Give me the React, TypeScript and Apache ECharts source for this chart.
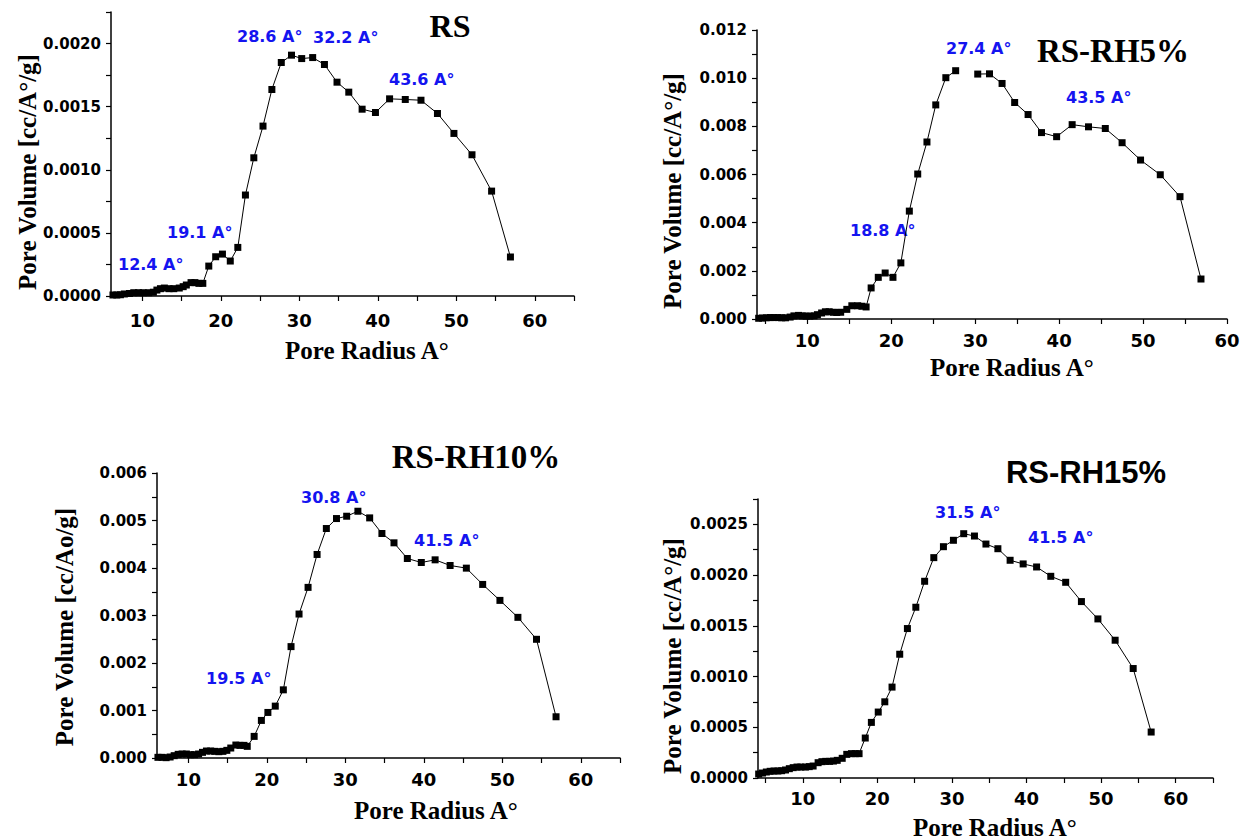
import React, { useEffect, useRef } from "react";
import * as echarts from "echarts";

// ---------- DATA ----------
const RS_RADIUS = [6.25, 6.74, 7.2, 7.7, 8.35, 8.9, 9.5, 10.1, 10.8, 11.4, 11.85, 12.3, 12.8, 13.4, 14.0, 14.7, 15.2, 15.6, 16.2, 16.7, 17.2, 17.7,
  18.46, 19.34, 20.2, 21.2, 22.16, 23.13, 24.2, 25.37, 26.5, 27.7, 29.0, 30.3, 31.7, 33.2, 34.8, 36.3, 38.0, 39.7, 41.5, 43.5, 45.5, 47.6, 49.7, 52.0, 54.5, 56.9];
const RS_VOLUME = [0.000008, 0.000008, 0.00001, 0.000016, 0.00002, 0.000026, 0.000026, 0.000026, 0.000026, 0.00003, 0.000047, 0.000058, 0.000063, 0.000058, 0.000058, 0.000063, 0.000074, 0.000087, 0.000106, 0.000106, 0.0001, 0.0001,
  0.000237, 0.000311, 0.000332, 0.000277, 0.000385, 0.0008, 0.001095, 0.001346, 0.001636, 0.00185, 0.001908, 0.001881, 0.001889, 0.001834, 0.001694, 0.001615, 0.00148, 0.001454, 0.001562, 0.001557, 0.001551, 0.001446, 0.001288, 0.001119, 0.000831, 0.000309];

const RH5_RADIUS = [4.2, 4.66, 5.1, 5.57, 6.0, 6.5, 6.94, 7.4, 7.95, 8.4, 8.95, 9.4, 9.86, 10.3, 10.8, 11.2, 11.7, 12.15, 12.6, 13.1, 13.5, 13.97, 14.7, 15.3, 16.0, 16.5, 17.0,
  17.6, 18.45, 19.27, 20.2, 21.14, 22.15, 23.15, 24.25, 25.3, 26.5, 27.67, 28.9, 30.3, 31.7, 33.2, 34.7, 36.3, 37.9, 39.7, 41.55, 43.5, 45.5, 47.5, 49.7, 52.05, 54.4, 56.9];
const RH5_VOLUME = [0.00003, 0.00004, 0.00005, 0.00006, 0.00006, 0.00006, 0.00005, 0.00005, 0.00008, 0.00013, 0.00015, 0.00013, 0.00012, 0.00012, 0.00013, 0.00018, 0.00025, 0.0003, 0.0003, 0.00028, 0.00027, 0.00028, 0.0004, 0.00055, 0.00055, 0.00053, 0.0005,
  0.00129, 0.00173, 0.00191, 0.00173, 0.00233, 0.00448, 0.00602, 0.00735, 0.00889, 0.01002, 0.01031, null, 0.01017, 0.01018, 0.00978, 0.00899, 0.00849, 0.00774, 0.00757, 0.00807, 0.00798, 0.00791, 0.00732, 0.0066, 0.00599, 0.00508, 0.00166];

const RH10_RADIUS = [6.12, 6.64, 7.16, 7.67, 8.19, 8.7, 9.2, 9.74, 10.26, 10.78, 11.3, 11.8, 12.3, 12.84, 13.36, 13.88, 14.4, 14.9, 15.4, 16.05, 16.57, 17.08, 17.5,
  18.38, 19.3, 20.13, 21.07, 22.1, 23.08, 24.1, 25.25, 26.4, 27.58, 28.87, 30.17, 31.6, 33.1, 34.66, 36.2, 37.9, 39.68, 41.44, 43.35, 45.42, 47.5, 49.7, 51.99, 54.36, 56.85];
const RH10_VOLUME = [0.000014, 0.000014, 0.000007, 0.000021, 0.000049, 0.000077, 0.000084, 0.000084, 0.00007, 0.00007, 0.000084, 0.000119, 0.000147, 0.000147, 0.00014, 0.000133, 0.00014, 0.000161, 0.00021, 0.000273, 0.000266, 0.000266, 0.000245,
  0.000455, 0.000791, 0.000959, 0.001092, 0.001435, 0.002345, 0.003031, 0.003592, 0.004285, 0.004831, 0.005041, 0.00509, 0.005195, 0.005055, 0.004726, 0.00453, 0.0042, 0.004116, 0.004172, 0.004053, 0.003997, 0.003654, 0.003318, 0.002961, 0.002499, 0.000868];

const RH15_RADIUS = [4.09, 4.6, 5.12, 5.63, 6.15, 6.66, 7.17, 7.69, 8.2, 8.72, 9.23, 9.74, 10.36, 10.87, 11.39, 12.06, 12.57, 13.08, 13.6, 14.11, 14.62, 15.29, 15.9, 16.53, 17.04, 17.55,
  18.38, 19.2, 20.12, 21.0, 21.97, 23.0, 24.03, 25.16, 26.34, 27.57, 28.86, 30.2, 31.58, 33.02, 34.56, 36.16, 37.8, 39.55, 41.35, 43.25, 45.25, 47.36, 49.57, 51.88, 54.3, 56.71];
const RH15_VOLUME = [0.000039, 0.000049, 0.000059, 0.000066, 0.000069, 0.000069, 0.000072, 0.000079, 0.000092, 0.000102, 0.000108, 0.000108, 0.000108, 0.000112, 0.000118, 0.000151, 0.000161, 0.000164, 0.000164, 0.000167, 0.000174, 0.000194, 0.000233, 0.00024, 0.00024, 0.00024,
  0.000394, 0.000548, 0.00065, 0.000751, 0.000896, 0.00122, 0.001473, 0.001683, 0.001939, 0.002172, 0.00228, 0.002343, 0.002408, 0.002385, 0.002306, 0.00226, 0.002146, 0.00211, 0.00208, 0.001988, 0.001929, 0.001739, 0.001568, 0.001358, 0.001079, 0.000453];

// tick labels
const X_LABELS = [10, 20, 30, 40, 50, 60];
const X_TICKS_FROM10 = [10, 15, 20, 25, 30, 35, 40, 45, 50, 55, 60, 65];
const X_TICKS_FROM5 = [5, 10, 15, 20, 25, 30, 35, 40, 45, 50, 55, 60];
const X_TICKS_FROM5_TO65 = [5, 10, 15, 20, 25, 30, 35, 40, 45, 50, 55, 60, 65];

const RS_Y_LABELS = [0, 0.0005, 0.001, 0.0015, 0.002];
const RS_Y_TICKS = [0, 0.00025, 0.0005, 0.00075, 0.001, 0.00125, 0.0015, 0.00175, 0.002, 0.00225];
const RH5_Y_LABELS = [0, 0.002, 0.004, 0.006, 0.008, 0.01, 0.012];
const RH5_Y_TICKS = [0, 0.001, 0.002, 0.003, 0.004, 0.005, 0.006, 0.007, 0.008, 0.009, 0.01, 0.011, 0.012];
const RH10_Y_LABELS = [0, 0.001, 0.002, 0.003, 0.004, 0.005, 0.006];
const RH10_Y_TICKS = [0, 0.0005, 0.001, 0.0015, 0.002, 0.0025, 0.003, 0.0035, 0.004, 0.0045, 0.005, 0.0055, 0.006];
const RH15_Y_LABELS = [0, 0.0005, 0.001, 0.0015, 0.002, 0.0025];
const RH15_Y_TICKS = [0, 0.00025, 0.0005, 0.00075, 0.001, 0.00125, 0.0015, 0.00175, 0.002, 0.00225, 0.0025, 0.00275];

const TITLES = ["RS", "RS-RH5%", "RS-RH10%", "RS-RH15%"];
const Y_NAMES = ["Pore Volume [cc/A°/g]", "Pore Volume [cc/A°/g]", "Pore Volume [cc/Ao/g]", "Pore Volume [cc/A°/g]"];
const X_NAME = "Pore Radius A°";
const RS_PEAKS = ["12.4 A°", "19.1 A°", "28.6 A°", "32.2 A°", "43.6 A°"];
const RH5_PEAKS = ["27.4 A°", "43.5 A°", "18.8 A°"];
const RH10_PEAKS = ["30.8 A°", "41.5 A°", "19.5 A°"];
const RH15_PEAKS = ["31.5 A°", "41.5 A°"];

// ---------- LAYOUT ----------
const SANS = "DejaVu Sans";
const SERIF = "Liberation Serif";
const BLUE = "#1414f0";

type Panel = {
  grid: { left: number; top: number; width: number; height: number };
  xMin: number; xMax: number; yMax: number; dec: number; labelMargin: number;
  radius: number[]; volume: (number | null)[];
  xTicks: number[]; yLabels: number[]; yTicks: number[];
};

const PANELS: Panel[] = [
  { grid: { left: 111, top: 12, width: 463, height: 284 }, xMin: 6, xMax: 65, yMax: 0.00225, dec: 4, labelMargin: 15,
    radius: RS_RADIUS, volume: RS_VOLUME, xTicks: X_TICKS_FROM10, yLabels: RS_Y_LABELS, yTicks: RS_Y_TICKS },
  { grid: { left: 757, top: 30, width: 470, height: 289 }, xMin: 4, xMax: 60, yMax: 0.012, dec: 3, labelMargin: 12,
    radius: RH5_RADIUS, volume: RH5_VOLUME, xTicks: X_TICKS_FROM5, yLabels: RH5_Y_LABELS, yTicks: RH5_Y_TICKS },
  { grid: { left: 157, top: 473, width: 463, height: 285 }, xMin: 6, xMax: 65, yMax: 0.006, dec: 3, labelMargin: 12,
    radius: RH10_RADIUS, volume: RH10_VOLUME, xTicks: X_TICKS_FROM10, yLabels: RH10_Y_LABELS, yTicks: RH10_Y_TICKS },
  { grid: { left: 758, top: 499, width: 455, height: 279 }, xMin: 4, xMax: 65, yMax: 0.00275, dec: 4, labelMargin: 11,
    radius: RH15_RADIUS, volume: RH15_VOLUME, xTicks: X_TICKS_FROM5_TO65, yLabels: RH15_Y_LABELS, yTicks: RH15_Y_TICKS },
];

// text positions
const TITLE_POS = [
  { x: 450, y: 26, font: SERIF, size: 32 },
  { x: 1113, y: 51, font: SERIF, size: 33 },
  { x: 476, y: 457, font: SERIF, size: 33 },
  { x: 1086, y: 472, font: "Liberation Sans", size: 31 },
];
const XNAME_POS = [{ x: 285, y: 350 }, { x: 930, y: 367 }, { x: 354, y: 810 }, { x: 913, y: 827 }];
const YNAME_POS = [{ x: 27, y: 172 }, { x: 672, y: 191 }, { x: 64, y: 627 }, { x: 672, y: 656 }];
const PEAK_POS = [
  [{ x: 118, y: 264 }, { x: 167, y: 232 }, { x: 237, y: 36 }, { x: 313, y: 37 }, { x: 389, y: 79 }],
  [{ x: 946, y: 48 }, { x: 1066, y: 97 }, { x: 850, y: 230 }],
  [{ x: 301, y: 497 }, { x: 414, y: 540 }, { x: 206, y: 678 }],
  [{ x: 935, y: 512 }, { x: 1028, y: 537 }],
];
const PEAKS = [RS_PEAKS, RH5_PEAKS, RH10_PEAKS, RH15_PEAKS];

function buildOption() {
  const axisLine = { show: true, onZero: false, lineStyle: { color: "#000", width: 1.5 } };
  const axisTickBase = { show: true, inside: false, length: 5, lineStyle: { color: "#000", width: 1.2 } };

  const grid = PANELS.map((p) => ({ ...p.grid, containLabel: false }));
  const xAxis = PANELS.map((p, i) => ({
    type: "value", gridIndex: i, min: p.xMin, max: p.xMax,
    axisLine, splitLine: { show: false },
    axisTick: { ...axisTickBase, customValues: p.xTicks },
    axisLabel: { customValues: X_LABELS, color: "#000", fontFamily: SANS, fontWeight: "bold", fontSize: 18, margin: p.labelMargin },
  }));
  const yAxis = PANELS.map((p, i) => ({
    type: "value", gridIndex: i, min: 0, max: p.yMax,
    axisLine, splitLine: { show: false },
    axisTick: { ...axisTickBase, customValues: p.yTicks },
    axisLabel: {
      customValues: p.yLabels, color: "#000", fontFamily: SANS, fontWeight: "bold", fontSize: 15, margin: 10,
      formatter: (v: number) => v.toFixed(p.dec),
    },
  }));
  const series = PANELS.map((p, i) => ({
    type: "line", xAxisIndex: i, yAxisIndex: i,
    data: p.radius.map((r, k) => [r, p.volume[k] === null ? "-" : p.volume[k]]),
    symbol: "rect", symbolSize: 7, showAllSymbol: true, connectNulls: false,
    lineStyle: { color: "#000", width: 1 }, itemStyle: { color: "#000" },
    emphasis: { disabled: true },
  }));

  const graphic: any[] = [];
  TITLES.forEach((t, i) => {
    const tp = TITLE_POS[i];
    graphic.push({ type: "text", x: tp.x, y: tp.y, style: { text: t, fill: "#000", fontFamily: tp.font, fontWeight: "bold", fontSize: tp.size, align: "center", verticalAlign: "middle" } });
    const xp = XNAME_POS[i];
    graphic.push({ type: "text", x: xp.x, y: xp.y, style: { text: X_NAME, fill: "#000", fontFamily: SERIF, fontWeight: "bold", fontSize: 25, align: "left", verticalAlign: "middle" } });
    const yp = YNAME_POS[i];
    graphic.push({ type: "text", x: yp.x, y: yp.y, rotation: Math.PI / 2, style: { text: Y_NAMES[i], fill: "#000", fontFamily: SERIF, fontWeight: "bold", fontSize: 25, align: "center", verticalAlign: "middle" } });
    PEAKS[i].forEach((pk, k) => {
      const pp = PEAK_POS[i][k];
      graphic.push({ type: "text", x: pp.x, y: pp.y, style: { text: pk, fill: BLUE, fontFamily: SANS, fontWeight: "bold", fontSize: 16, align: "left", verticalAlign: "middle" } });
    });
  });

  return { animation: false, backgroundColor: "#fff", grid, xAxis, yAxis, series, graphic };
}

export default function App() {
  const ref = useRef<HTMLDivElement>(null);
  useEffect(() => {
    if (!ref.current) return;
    const chart = echarts.init(ref.current, undefined, { renderer: "svg" });
    chart.setOption(buildOption() as any);
    return () => chart.dispose();
  }, []);
  return <div ref={ref} style={{ position: "absolute", left: 0, top: 0, width: 1243, height: 839, background: "#fff" }} />;
}
